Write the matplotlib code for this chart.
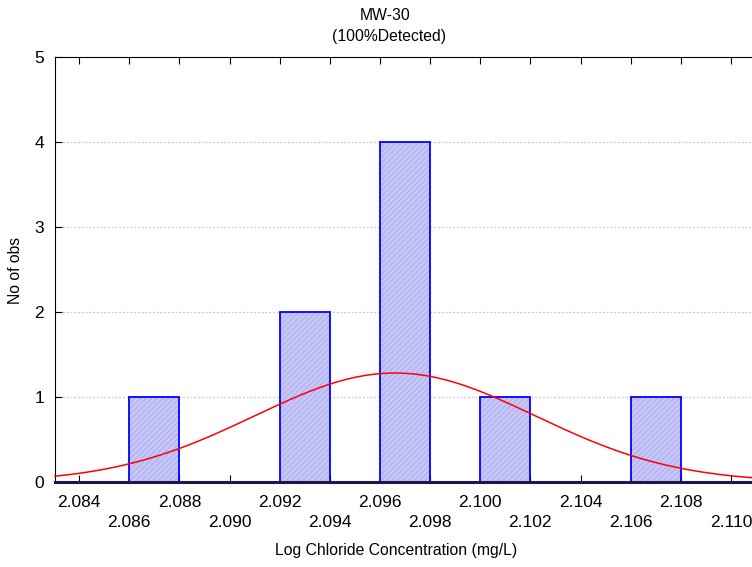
import numpy as np
import matplotlib.pyplot as plt

plt.rcParams["font.family"] = ["Liberation Sans", "DejaVu Sans"]
plt.rcParams["hatch.linewidth"] = 0.6

# Histogram bins (left edge, right edge) and counts
bin_left = [2.086, 2.092, 2.096, 2.100, 2.106]
bin_right = [2.088, 2.094, 2.098, 2.102, 2.108]
counts = [1, 2, 4, 1, 1]

# Fitted normal curve parameters
fit_mean = 2.0966
fit_sd = 0.0056
n_obs = 9
bin_width = 0.002

x_ticks_top = [2.084, 2.088, 2.092, 2.096, 2.100, 2.104, 2.108]
x_ticks_bottom = [2.086, 2.090, 2.094, 2.098, 2.102, 2.106, 2.110]
y_ticks = [0, 1, 2, 3, 4, 5]

W, H = 752, 567
TICK_FS = 12.5
FS = 11.3
fig = plt.figure(figsize=(W / 100, H / 100), dpi=100)
ax = fig.add_axes([55 / W, 1 - 482 / H, (752 - 55) / W, (482 - 57) / H])

xmin, xmax = 2.08304, 2.11084
ax.set_xlim(xmin, xmax)
ax.set_ylim(0, 5)

for y in y_ticks[1:-1]:
    ax.axhline(y, color="#c8c8c8", lw=0.9, ls=(0, (1.5, 1.5)), zorder=0)

for l, r, c in zip(bin_left, bin_right, counts):
    # light fill with fine hatching, then the blue outline
    ax.bar(l, c, width=r - l, align="edge", facecolor="#c6c6f8",
           edgecolor="#a9a9ee", hatch="//////", lw=0, zorder=2)
    ax.bar(l, c, width=r - l, align="edge", fill=False,
           edgecolor="#0000ff", lw=1.3, zorder=2)

xs = np.linspace(xmin, xmax, 400)
ys = n_obs * bin_width / (fit_sd * np.sqrt(2 * np.pi)) * np.exp(-0.5 * ((xs - fit_mean) / fit_sd) ** 2)
ax.plot(xs, ys, color="red", lw=1.1, zorder=3, clip_on=False)

ax.set_yticks(y_ticks)
ax.tick_params(axis="y", direction="in", length=5, labelsize=TICK_FS, pad=8, right=False)

# staggered x tick labels: alternate ticks drop to a second row
all_ticks = sorted(x_ticks_top + x_ticks_bottom)
ax.set_xticks(all_ticks)
labels = []
for t in all_ticks:
    if t in x_ticks_top:
        labels.append(f"{t:.3f}")
    else:
        labels.append(f"\n{t:.3f}")
ax.set_xticklabels(labels, linespacing=1.38)
ax.tick_params(axis="x", direction="in", length=5, labelsize=TICK_FS, pad=9.5, top=True)

ax.spines["right"].set_visible(False)
ax.spines["bottom"].set_color("#1a1a4a")
ax.spines["bottom"].set_linewidth(2.2)
ax.spines["bottom"].set_zorder(4)

fig.text(385 / W, 1 - 16 / H, "MW-30", ha="center", va="center", fontsize=FS)
fig.text(389 / W, 1 - 37 / H, "(100%Detected)", ha="center", va="center", fontsize=FS)
fig.text(16 / W, 1 - 270 / H, "No of obs", rotation=90, ha="center", va="center", fontsize=FS)
fig.text(396 / W, 1 - 551 / H, "Log Chloride Concentration (mg/L)", ha="center", va="center", fontsize=FS)

fig.savefig("out.png", dpi=100)
